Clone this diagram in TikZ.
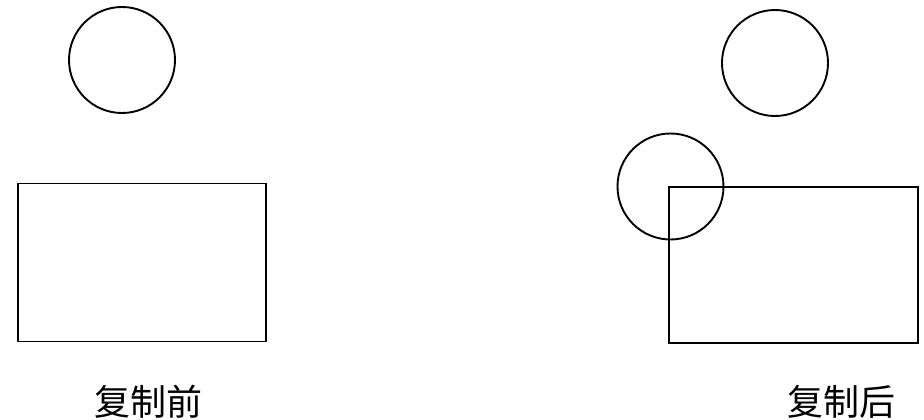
\documentclass[tikz,border=0pt]{standalone}
\usepackage{fontspec}
\newfontfamily\cjk{Noto Sans CJK SC}
\usepackage{tikz}
\usetikzlibrary{positioning}

\begin{document}
\begin{tikzpicture}[x=1pt, y=-1pt, line width=1.9pt,
    cbox/.style={circle, draw, inner sep=0pt, minimum size=106pt},
    rbox/.style={rectangle, draw, inner sep=0pt, minimum width=248pt, minimum height=158pt},
    lbl/.style={font=\cjk\fontsize{36}{38}\selectfont, inner sep=0pt}]

    \useasboundingbox (0,0) rectangle (924,420);

    % before copy
    \node[cbox] (c1) at (122,60) {};
    \node[rbox] (r1) at (142,262.5) {};
    \node[lbl] (t1) at (148,402) {复制前};

    % after copy
    \node[cbox] (c2) at (775,63) {};
    \node[cbox] (c3) at (670.5,186.5) {};
    \node[rbox, minimum width=249pt, minimum height=156pt] (r2) at (793.5,265) {};
    \node[lbl] (t2) at (841,402) {复制后};

\end{tikzpicture}
\end{document}
